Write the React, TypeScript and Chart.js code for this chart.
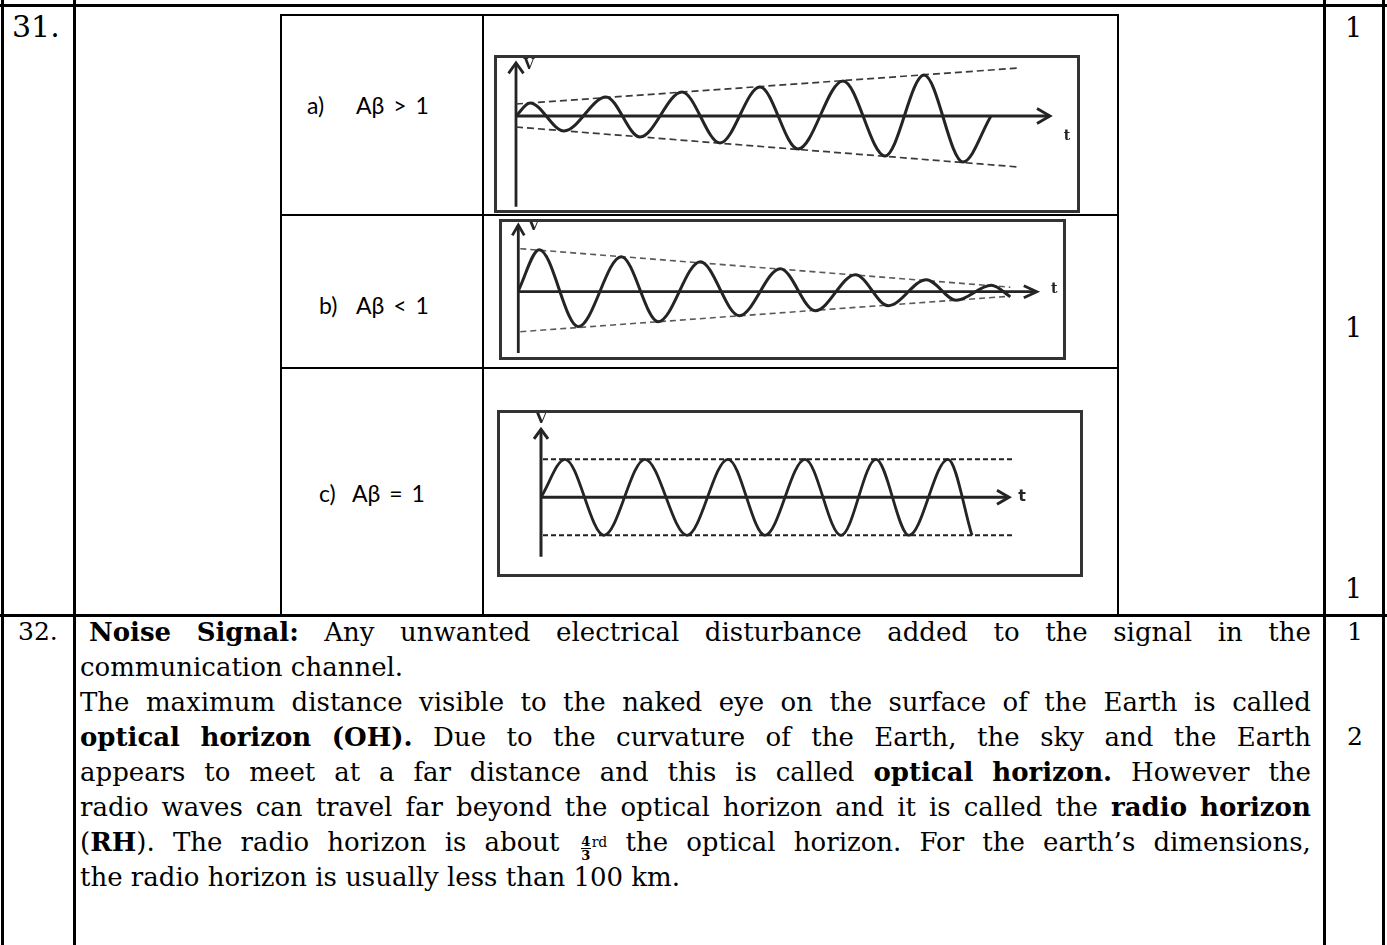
import React, { useEffect, useRef } from 'react';
import { Chart, registerables } from 'chart.js';

Chart.register(...registerables);

// ---------- oscillator output waveforms (time in ms, amplitude in V) ----------

// a) Aβ > 1 : growing oscillation
const growTimes = [0, 1.4, 4.8, 9.0, 12.4, 16.6, 20.4, 24.4, 28.2, 32.7, 36.9, 40.8, 44.7, 47.5];
const growVolts = [0, 1.3, -1.5, 1.9, -2.1, 2.4, -2.7, 2.9, -3.3, 3.5, -4.0, 4.1, -4.6, 0];
const growEnvTimes = [0, 50.3];
const growEnvUpper = [1.2, 4.8];
const growEnvLower = [-1.1, -5.1];

// b) Aβ < 1 : decaying oscillation
const decayTimes = [0, 2.1, 6.0, 10.3, 14.0, 18.2, 22.1, 26.2, 29.7, 33.7, 37.0, 40.8, 43.8, 47.3, 49.2];
const decayVolts = [0.1, 4.2, -3.5, 3.5, -3.0, 3.0, -2.4, 2.3, -1.9, 1.7, -1.4, 1.2, -0.85, 0.65, -0.5];
const decayEnvTimes = [0.2, 49.2];
const decayEnvUpper = [4.3, 0.45];
const decayEnvLower = [-4.0, -0.45];

// c) Aβ = 1 : sustained oscillation
const steadyTimes = [0, 2.4, 6.3, 10.4, 14.6, 18.7, 22.4, 26.4, 30.0, 33.5, 36.8, 40.7, 43.1];
const steadyVolts = [0, 3.8, -3.8, 3.8, -3.8, 3.8, -3.8, 3.8, -3.8, 3.8, -3.8, 3.8, -3.8];
const steadyEnvTimes = [0.2, 47.2];
const steadyEnvUpper = [3.8, 3.8];
const steadyEnvLower = [-3.8, -3.8];

// ---------- answer text for question 32 ----------
const answerLines = [
  { justify: true, indent: 9, text: '**Noise** **Signal:** Any unwanted electrical disturbance added to the signal in the' },
  { justify: false, indent: 0, text: 'communication channel.' },
  { justify: true, indent: 0, text: 'The maximum distance visible to the naked eye on the surface of the Earth is called' },
  { justify: true, indent: 0, text: '**optical** **horizon** **(OH).** Due to the curvature of the Earth, the sky and the Earth' },
  { justify: true, indent: 0, text: 'appears to meet at a far distance and this is called **optical** **horizon.** However the' },
  { justify: true, indent: 0, text: 'radio waves can travel far beyond the optical horizon and it is called the **radio** **horizon**' },
  { justify: true, indent: 0, text: '(**RH**). The radio horizon is about {4/3}^rd the optical horizon. For the earth\u2019s dimensions,' },
  { justify: false, indent: 0, text: 'the radio horizon is usually less than 100 km.' },
];

const INK = '#242424';
const FRAME = 3;
const SERIF = '"DejaVu Serif", serif';
const SANS_LABEL = 'Lato, "Open Sans", sans-serif';

type Panel = {
  left: number; top: number; width: number; height: number;
  xMin: number; xMax: number; yMin: number; yMax: number;
  yAxisTop: number; yAxisBottom: number; xAxisEnd: number;
  vLabel: [number, number]; tLabel: [number, number];
  vFont: string; tFont: string;
  arrowLen: number; arrowHalf: number; axisWidth: number;
  waveWidth: number; envColor: string; envWidth: number; envDash: number[];
};

const growPanel: Panel = {
  left: 494, top: 55, width: 586, height: 158,
  xMin: -1.9, xMax: 56.1, yMin: -9.4, yMax: 5.8,
  yAxisTop: 5.3, yAxisBottom: -9.07, xAxisEnd: 53.4,
  vLabel: [1.3, 5.1], tLabel: [55.1, -2.0],
  vFont: 'bold 14px "DejaVu Serif"', tFont: 'bold 14px "DejaVu Serif"',
  arrowLen: 13, arrowHalf: 7.5, axisWidth: 2.8,
  waveWidth: 3, envColor: '#3a3a3a', envWidth: 1.7, envDash: [7, 4],
};

const decayPanel: Panel = {
  left: 499, top: 219, width: 567, height: 141,
  xMin: -1.63, xMax: 54.47, yMin: -6.53, yMax: 6.97,
  yAxisTop: 6.67, yAxisBottom: -6.13, xAxisEnd: 51.85,
  vLabel: [1.53, 6.6], tLabel: [53.6, 0.27],
  vFont: 'bold 15px "DejaVu Serif"', tFont: 'bold 14px "DejaVu Serif"',
  arrowLen: 13, arrowHalf: 6, axisWidth: 2.8,
  waveWidth: 3, envColor: '#5a5a5a', envWidth: 1.6, envDash: [6, 4],
};

const steadyPanel: Panel = {
  left: 497, top: 410, width: 586, height: 167,
  xMin: -4.1, xMax: 53.9, yMin: -7.67, yMax: 8.43,
  yAxisTop: 6.8, yAxisBottom: -5.94, xAxisEnd: 46.8,
  vLabel: [0, 7.83], tLabel: [48.1, 0],
  vFont: 'bold 15px "DejaVu Serif"', tFont: 'bold 16px "DejaVu Sans"',
  arrowLen: 12, arrowHalf: 7, axisWidth: 3,
  waveWidth: 2.8, envColor: '#222222', envWidth: 2, envDash: [5, 3],
};

// Axes with open arrowheads plus the V / t letters, drawn beneath the datasets
function makeAxesPlugin(p: Panel) {
  return {
    id: 'signalAxes',
    beforeDatasetsDraw(chart: any) {
      const { ctx, scales } = chart;
      const x = scales.x;
      const y = scales.y;
      const ox = x.getPixelForValue(0);
      const oy = y.getPixelForValue(0);
      const yTop = y.getPixelForValue(p.yAxisTop);
      const yBot = y.getPixelForValue(p.yAxisBottom);
      const xEnd = x.getPixelForValue(p.xAxisEnd);
      ctx.save();
      ctx.strokeStyle = INK;
      ctx.lineWidth = p.axisWidth;
      ctx.lineJoin = 'miter';
      ctx.beginPath();
      ctx.moveTo(ox, yBot);
      ctx.lineTo(ox, yTop);
      ctx.moveTo(ox, oy);
      ctx.lineTo(xEnd, oy);
      ctx.stroke();
      ctx.beginPath();
      ctx.moveTo(ox - p.arrowHalf, yTop + p.arrowLen * 0.8);
      ctx.lineTo(ox, yTop);
      ctx.lineTo(ox + p.arrowHalf, yTop + p.arrowLen * 0.8);
      ctx.moveTo(xEnd - p.arrowLen, oy - p.arrowHalf);
      ctx.lineTo(xEnd, oy);
      ctx.lineTo(xEnd - p.arrowLen, oy + p.arrowHalf);
      ctx.stroke();
      ctx.fillStyle = INK;
      ctx.textAlign = 'center';
      ctx.textBaseline = 'middle';
      ctx.font = p.vFont;
      ctx.fillText('V', x.getPixelForValue(p.vLabel[0]), y.getPixelForValue(p.vLabel[1]));
      ctx.font = p.tFont;
      ctx.fillText('t', x.getPixelForValue(p.tLabel[0]), y.getPixelForValue(p.tLabel[1]));
      ctx.restore();
    },
  };
}

function WavePanel(props: {
  panel: Panel; times: number[]; volts: number[];
  envTimes: number[]; envUpper: number[]; envLower: number[];
}) {
  const { panel, times, volts, envTimes, envUpper, envLower } = props;
  const ref = useRef<HTMLCanvasElement>(null);
  useEffect(() => {
    const canvas = ref.current;
    if (!canvas) return;
    const chart = new Chart(canvas, {
      type: 'line',
      data: {
        datasets: [
          {
            data: times.map((t, i) => ({ x: t, y: volts[i] })),
            borderColor: INK,
            borderWidth: panel.waveWidth,
            cubicInterpolationMode: 'monotone',
            tension: 0.4,
            pointRadius: 0,
            fill: false,
          },
          {
            data: envTimes.map((t, i) => ({ x: t, y: envUpper[i] })),
            borderColor: panel.envColor,
            borderWidth: panel.envWidth,
            borderDash: panel.envDash,
            pointRadius: 0,
            fill: false,
          },
          {
            data: envTimes.map((t, i) => ({ x: t, y: envLower[i] })),
            borderColor: panel.envColor,
            borderWidth: panel.envWidth,
            borderDash: panel.envDash,
            pointRadius: 0,
            fill: false,
          },
        ],
      },
      options: {
        responsive: false,
        maintainAspectRatio: false,
        animation: false,
        events: [],
        layout: { padding: 0 },
        plugins: { legend: { display: false }, tooltip: { enabled: false }, title: { display: false } },
        scales: {
          x: { type: 'linear', display: false, min: panel.xMin, max: panel.xMax },
          y: { type: 'linear', display: false, min: panel.yMin, max: panel.yMax },
        },
      },
      plugins: [makeAxesPlugin(panel)],
    } as any);
    return () => chart.destroy();
  }, []);
  const cw = panel.width - 2 * FRAME;
  const ch = panel.height - 2 * FRAME;
  return (
    <div
      style={{
        position: 'absolute', left: panel.left, top: panel.top,
        width: panel.width, height: panel.height,
        border: `${FRAME}px solid #333`, boxSizing: 'border-box', background: '#fff',
      }}
    >
      <canvas ref={ref} width={cw} height={ch} style={{ display: 'block', width: cw, height: ch }} />
    </div>
  );
}

// ---------- table rules ----------
function Rule(props: { x: number; y: number; w: number; h: number }) {
  return (
    <div style={{ position: 'absolute', left: props.x, top: props.y, width: props.w, height: props.h, background: '#000' }} />
  );
}

// Stacked numerator / denominator with a rule between them
function Fraction(props: { num: string; den: string }) {
  const digit: React.CSSProperties = { display: 'block', height: 13, lineHeight: '13px', textAlign: 'center' };
  return (
    <span
      style={{
        display: 'inline-block', verticalAlign: 'middle', fontSize: 13, fontWeight: 'bold',
        margin: '0 1px 0 3px', width: 10, lineHeight: '13px',
      }}
    >
      <span style={digit}>{props.num}</span>
      <span style={{ display: 'block', height: 0, borderTop: '1.5px solid #000' }} />
      <span style={digit}>{props.den}</span>
    </span>
  );
}

function Word(props: { word: string }) {
  const parts = props.word.split(/(\*\*[^*]+\*\*|\{\d+\/\d+\}|\^\w+)/).filter(Boolean);
  return (
    <span style={{ whiteSpace: 'nowrap' }}>
      {parts.map((p, i) => {
        if (p.startsWith('**')) return <b key={i}>{p.slice(2, -2)}</b>;
        if (p.startsWith('{')) {
          const [n, d] = p.slice(1, -1).split('/');
          return <Fraction key={i} num={n} den={d} />;
        }
        if (p.startsWith('^')) {
          return <span key={i} style={{ fontSize: 14, verticalAlign: '9px' }}>{p.slice(1)}</span>;
        }
        return <React.Fragment key={i}>{p}</React.Fragment>;
      })}
    </span>
  );
}

const TEXT_LEFT = 80;
const TEXT_WIDTH = 1231;
const TEXT_TOP = 614.5;
const LINE_H = 35;
const TEXT_SIZE = 26;

function AnswerLine(props: { index: number; justify: boolean; indent: number; text: string }) {
  const words = props.text.split(' ');
  const base: React.CSSProperties = {
    position: 'absolute', left: TEXT_LEFT + props.indent, top: TEXT_TOP + props.index * LINE_H,
    width: TEXT_WIDTH - props.indent, height: LINE_H, lineHeight: `${LINE_H}px`,
    fontFamily: SERIF, fontSize: TEXT_SIZE, whiteSpace: 'nowrap', color: '#000',
  };
  if (props.justify) {
    return (
      <div style={{ ...base, display: 'flex', justifyContent: 'space-between', alignItems: 'flex-start' }}>
        {words.map((w, i) => <Word key={i} word={w} />)}
      </div>
    );
  }
  return (
    <div style={base}>
      {words.map((w, i) => (
        <React.Fragment key={i}>{i > 0 ? ' ' : ''}<Word word={w} /></React.Fragment>
      ))}
    </div>
  );
}

function SerifText(props: { x: number; baseline: number; size: number; children: React.ReactNode }) {
  // DejaVu Serif with line-height 1: baseline sits 0.846em below the box top
  return (
    <div
      style={{
        position: 'absolute', left: props.x, top: props.baseline - 0.846 * props.size,
        fontFamily: SERIF, fontSize: props.size, lineHeight: 1, whiteSpace: 'nowrap', color: '#000',
      }}
    >
      {props.children}
    </div>
  );
}

function CaseLabel(props: { tag: string; x: number; exprX: number; baseline: number; expr: string }) {
  const size = 23;
  const top = props.baseline - 0.987 * size - 0.1 * size;
  const common: React.CSSProperties = {
    position: 'absolute', top, fontFamily: SANS_LABEL, fontSize: size, lineHeight: 1.2,
    whiteSpace: 'pre', color: '#000',
  };
  return (
    <>
      <div style={{ ...common, left: props.x }}>{props.tag}</div>
      <div style={{ ...common, left: props.exprX, wordSpacing: 3 }}>{props.expr}</div>
    </>
  );
}

export default function App() {
  return (
    <div
      style={{
        position: 'absolute', left: 0, top: 0, width: 1387, height: 945,
        overflow: 'hidden', background: '#fff',
      }}
    >
      {/* outer answer table */}
      <Rule x={0} y={4} w={1387} h={3} />
      <Rule x={0} y={614} w={1387} h={3} />
      <Rule x={1} y={0} w={3} h={945} />
      <Rule x={73} y={0} w={3} h={945} />
      <Rule x={1323} y={0} w={3} h={945} />
      <Rule x={1382} y={0} w={3} h={945} />

      {/* inner table for question 31 */}
      <Rule x={280} y={14} w={839} h={2} />
      <Rule x={280} y={214} w={839} h={2} />
      <Rule x={280} y={367} w={839} h={2} />
      <Rule x={280} y={14} w={2} h={601} />
      <Rule x={482} y={14} w={2} h={601} />
      <Rule x={1117} y={14} w={2} h={601} />

      <SerifText x={12} baseline={37.5} size={30}>31.</SerifText>
      <SerifText x={1345} baseline={37} size={27}>1</SerifText>
      <SerifText x={1345} baseline={337} size={27}>1</SerifText>
      <SerifText x={1345} baseline={598} size={27}>1</SerifText>

      <CaseLabel tag="a)" x={307} exprX={356} baseline={116.7} expr={'A\u03b2 > 1'} />
      <CaseLabel tag="b)" x={319} exprX={356} baseline={316.7} expr={'A\u03b2 < 1'} />
      <CaseLabel tag="c)" x={319} exprX={352} baseline={505} expr={'A\u03b2 = 1'} />

      <WavePanel panel={growPanel} times={growTimes} volts={growVolts}
        envTimes={growEnvTimes} envUpper={growEnvUpper} envLower={growEnvLower} />
      <WavePanel panel={decayPanel} times={decayTimes} volts={decayVolts}
        envTimes={decayEnvTimes} envUpper={decayEnvUpper} envLower={decayEnvLower} />
      <WavePanel panel={steadyPanel} times={steadyTimes} volts={steadyVolts}
        envTimes={steadyEnvTimes} envUpper={steadyEnvUpper} envLower={steadyEnvLower} />

      {/* question 32 */}
      <SerifText x={18} baseline={640.5} size={25}>32.</SerifText>
      <SerifText x={1347} baseline={640.5} size={25}>1</SerifText>
      <SerifText x={1347} baseline={745.5} size={25}>2</SerifText>
      {answerLines.map((l, i) => (
        <AnswerLine key={i} index={i} justify={l.justify} indent={l.indent} text={l.text} />
      ))}
    </div>
  );
}
